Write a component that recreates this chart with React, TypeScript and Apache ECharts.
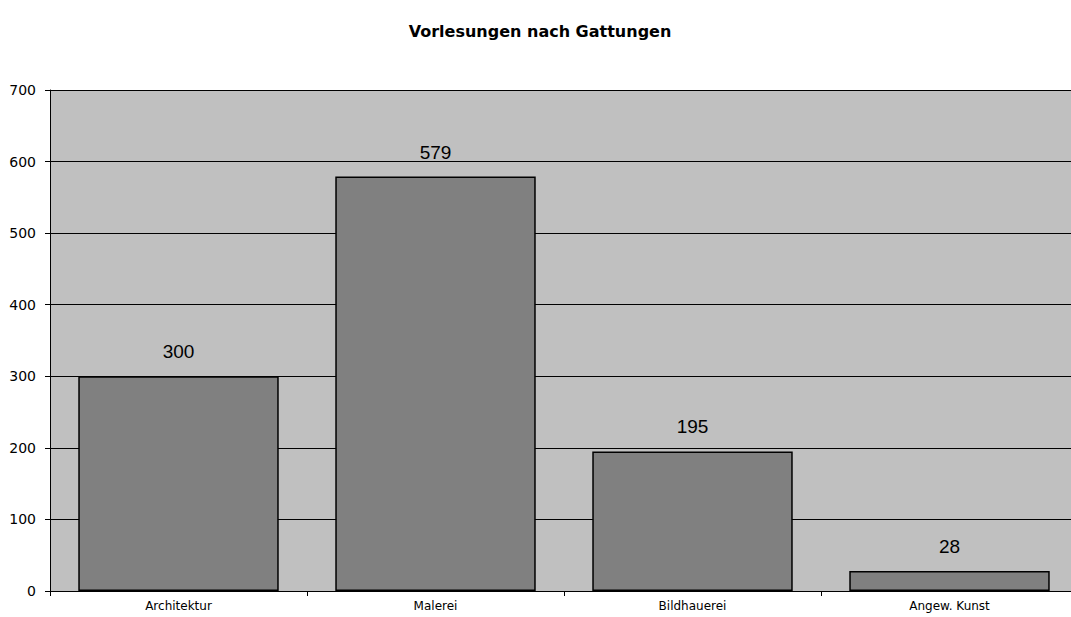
import React, { useEffect, useRef } from "react";
import * as echarts from "echarts";

const categories = ["Architektur", "Malerei", "Bildhauerei", "Angew. Kunst"];
const values = [300, 579, 195, 28];
const titleText = "Vorlesungen nach Gattungen";

export default function App() {
  const ref = useRef<HTMLDivElement>(null);
  useEffect(() => {
    document.body.style.margin = "0";
    document.body.style.overflow = "hidden";
    const chart = echarts.init(ref.current!, null, { renderer: "svg" });
    chart.setOption({
      animation: false,
      backgroundColor: "#ffffff",
      textStyle: { fontFamily: "Liberation Sans, Arial, sans-serif" },
      title: {
        text: titleText,
        left: 535,
        textAlign: "center",
        top: 18,
        textStyle: { fontSize: 16, fontWeight: "bold", color: "#000", fontFamily: "DejaVu Sans" },
      },
      grid: { left: 50, right: 0, top: 90, bottom: 26, show: true, backgroundColor: "#c0c0c0", borderWidth: 0 },
      xAxis: {
        type: "category",
        data: categories,
        axisLine: { lineStyle: { color: "#000", width: 1 } },
        axisTick: { show: true, length: 5, lineStyle: { color: "#000" } },
        axisLabel: { color: "#000", fontSize: 12, margin: 9, fontFamily: "DejaVu Sans" },
      },
      yAxis: {
        type: "value",
        min: 0,
        max: 700,
        interval: 100,
        axisLine: { show: true, lineStyle: { color: "#000", width: 1 } },
        axisTick: { show: true, length: 5, lineStyle: { color: "#000" } },
        axisLabel: { color: "#000", fontSize: 14, margin: 14, fontFamily: "DejaVu Sans" },
        splitLine: { show: true, lineStyle: { color: "#000", width: 1 } },
      },
      series: [
        {
          type: "bar",
          data: values,
          barWidth: "78%",
          itemStyle: { color: "#808080", borderColor: "#000", borderWidth: 1.5 },
          label: { show: true, position: "top", distance: 15, color: "#000", fontSize: 19 },
        },
      ],
    });
    return () => chart.dispose();
  }, []);
  return <div ref={ref} style={{ width: 1078, height: 617, position: "absolute", left: 0, top: 0 }} />;
}
